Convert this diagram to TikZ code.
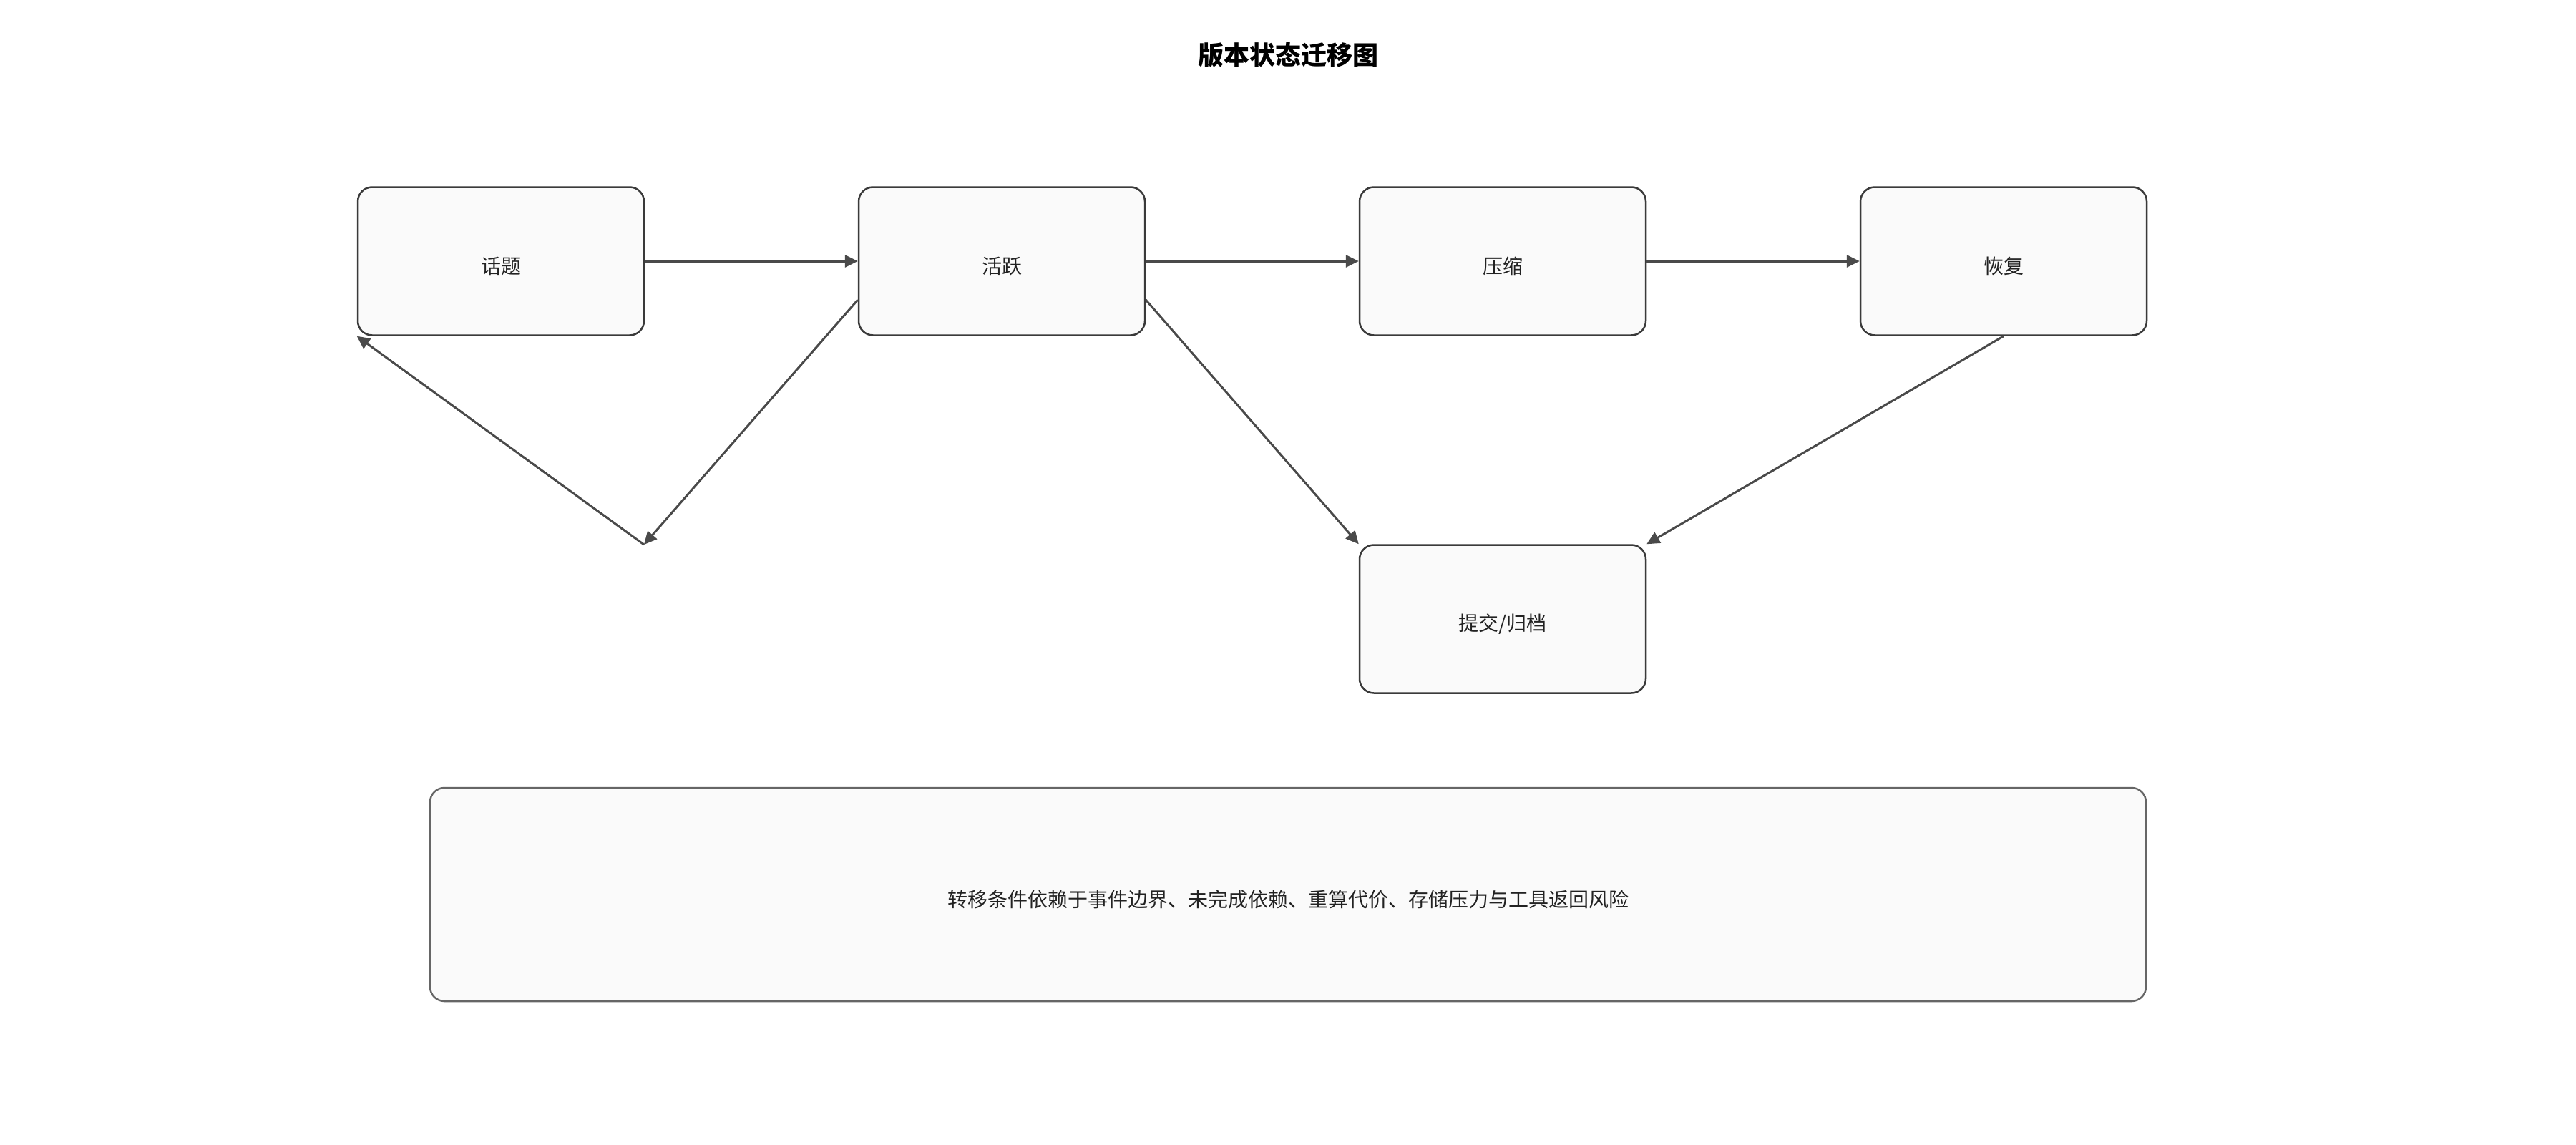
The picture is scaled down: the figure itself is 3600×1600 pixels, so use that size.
\documentclass[tikz,border=0pt]{standalone}
\usepackage{fontspec}
\setmainfont{Noto Sans CJK SC}
\usetikzlibrary{arrows.meta}
\definecolor{boxfill}{HTML}{FAFAFA}
\definecolor{boxline}{HTML}{3A3A3A}
\definecolor{noteline}{HTML}{666666}
\definecolor{arrowc}{HTML}{4A4A4A}
\definecolor{txt}{HTML}{222222}
\newcommand{\lowtext}[1]{\raisebox{-7pt}[\height][\depth]{#1}}
\tikzset{
  statebox/.style={draw=boxline, line width=2.5pt, fill=boxfill, rounded corners=20pt,
    minimum width=400pt, minimum height=207pt, inner sep=0pt, text=txt,
    font=\fontsize{28}{33}\selectfont},
  notebox/.style={draw=noteline, line width=2.5pt, fill=boxfill, rounded corners=20pt,
    minimum width=2398pt, minimum height=298pt, inner sep=0pt, text=txt,
    font=\fontsize{28}{33}\selectfont},
  conn/.style={draw=arrowc, line width=3pt, -{Triangle[length=18pt,width=17pt]}},
  titletext/.style={font=\fontsize{36}{42}\selectfont\bfseries, text=black, inner sep=0pt}
}
\begin{document}
\begin{tikzpicture}[x=1pt,y=-1pt]
\useasboundingbox (0,0) rectangle (3600,1600);
\node[titletext] (title) at (1800,77) {版本状态迁移图};
\node[statebox] (topic) at (700,365) {\lowtext{话题}};
\node[statebox] (active) at (1400,365) {\lowtext{活跃}};
\node[statebox] (compress) at (2100,365) {\lowtext{压缩}};
\node[statebox] (restore) at (2800,365) {\lowtext{恢复}};
\node[statebox] (commit) at (2100,865) {\lowtext{提交/归档}};
\node[notebox] (note) at (1800,1250) {\lowtext{转移条件依赖于事件边界、未完成依赖、重算代价、存储压力与工具返回风险}};
\coordinate (j) at (900,761);
\draw[conn] (topic.east) -- (active.west);
\draw[conn] (active.east) -- (compress.west);
\draw[conn] (compress.east) -- (restore.west);
\draw[conn] ([yshift=-54pt]active.west) -- (j);
\draw[conn] (j) -- (topic.south west);
\draw[conn] ([yshift=-54pt]active.east) -- (commit.north west);
\draw[conn] (restore.south) -- (commit.north east);
\end{tikzpicture}
\end{document}
